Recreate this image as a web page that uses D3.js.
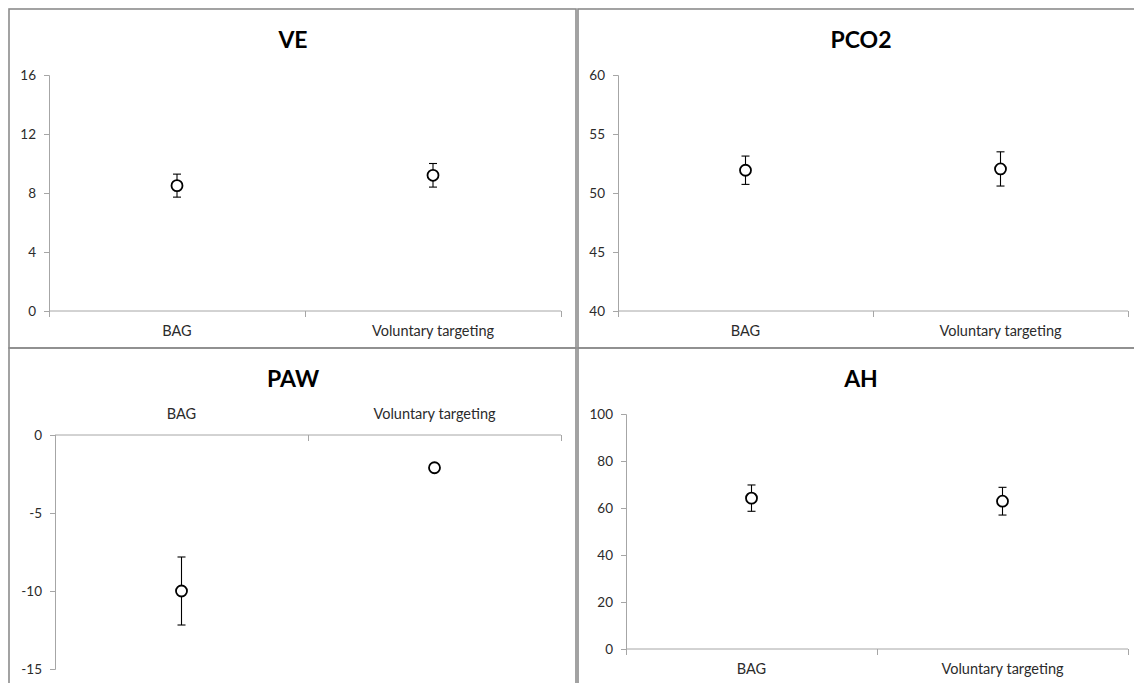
<!DOCTYPE html>
<html>
<head>
<meta charset="utf-8">
<script src="https://cdn.jsdelivr.net/npm/d3@7"></script>
<style>
  html, body { margin: 0; padding: 0; background: #fff; }
  svg { display: block; }
  .tick text { font-family: Lato, "Open Sans", sans-serif; font-size: 13.5px; fill: #2b2b2b; }
  .cat .tick text { font-size: 14.5px; }
  .title { font-family: Lato, "Open Sans", sans-serif; font-size: 23px; font-weight: 700; fill: #000; }
</style>
</head>
<body>
<svg id="chart" width="1134" height="683"></svg>
<script>
// Group labels shared by all four panels
const categories = ["BAG", "Voluntary targeting"];

// Means and error half-widths per group (BAG, Voluntary targeting)
const veMean = [8.5, 9.2];
const veErr = [0.78, 0.8];
const pco2Mean = [51.93, 52.04];
const pco2Err = [1.2, 1.45];
const pawMean = [-10.0, -2.1];
const pawErr = [2.18, 0];
const ahMean = [64.2, 62.9];
const ahErr = [5.6, 5.9];

// Y-axis tick values per panel
const veTicks = [0, 4, 8, 12, 16];
const pco2Ticks = [40, 45, 50, 55, 60];
const pawTicks = [-15, -10, -5, 0];
const ahTicks = [0, 20, 40, 60, 80, 100];

const panels = [
  { title: "VE", mean: veMean, err: veErr, ticks: veTicks, domain: [0, 16],
    box: [9, 9, 567, 339], px: [49, 561], py: [75, 311], titleX: 293, titleY: 48, labelsTop: false },
  { title: "PCO2", mean: pco2Mean, err: pco2Err, ticks: pco2Ticks, domain: [40, 60],
    box: [578, 9, 568, 339], px: [618, 1128], py: [75, 311], titleX: 861, titleY: 48, labelsTop: false },
  { title: "PAW", mean: pawMean, err: pawErr, ticks: pawTicks, domain: [-15, 0],
    box: [9, 348, 567, 339], px: [55, 561], py: [435, 669], titleX: 293, titleY: 387, labelsTop: true },
  { title: "AH", mean: ahMean, err: ahErr, ticks: ahTicks, domain: [0, 100],
    box: [578, 348, 568, 339], px: [626, 1128], py: [414, 649], titleX: 861, titleY: 387, labelsTop: false }
];

const svg = d3.select("#chart");
const axisColor = "#a6a6a6";

panels.forEach(p => {
  const g = svg.append("g");

  // panel frame
  g.append("rect")
    .attr("x", p.box[0]).attr("y", p.box[1])
    .attr("width", p.box[2]).attr("height", p.box[3])
    .attr("fill", "none").attr("stroke", "#8c8c8c").attr("stroke-width", 1.6);

  g.append("text").attr("class", "title")
    .attr("x", p.titleX).attr("y", p.titleY)
    .attr("text-anchor", "middle").text(p.title);

  const x = d3.scaleBand().domain(categories).range(p.px).paddingInner(0).paddingOuter(0);
  const y = d3.scaleLinear().domain(p.domain).range([p.py[1], p.py[0]]);

  // value axis (plain hyphen for negatives)
  const ya = g.append("g").attr("transform", `translate(${p.px[0]},0)`)
    .call(d3.axisLeft(y).tickValues(p.ticks).tickSize(5).tickPadding(8).tickFormat(d => String(d)));
  ya.selectAll("path, line").attr("stroke", axisColor);

  // category axis crosses at zero (or at the bottom of the range)
  const cross = (p.domain[0] <= 0 && p.domain[1] >= 0) ? y(0) : y(p.domain[0]);
  const edge = d3.scaleLinear().domain([0, categories.length]).range(p.px);
  const xa = g.append("g").attr("transform", `translate(0,${cross})`)
    .call(d3.axisBottom(edge).tickValues(d3.range(categories.length + 1)).tickSize(6).tickFormat(""));
  xa.selectAll("path, line").attr("stroke", axisColor);
  xa.select(".domain").attr("d", `M${p.px[0]},0H${p.px[1]}`);

  // category labels
  const la = g.append("g").attr("class", "cat").attr("transform", `translate(0,${cross})`)
    .call(p.labelsTop ? d3.axisTop(x).tickSize(0).tickPadding(16)
                      : d3.axisBottom(x).tickSize(0).tickPadding(15));
  la.select(".domain").remove();

  // error bars
  const pts = categories.map((c, i) => ({ c, m: p.mean[i], e: p.err[i] }));
  const eb = g.append("g").attr("stroke", "#000").attr("stroke-width", 1.1);
  pts.filter(d => d.e > 0).forEach(d => {
    const cx = x(d.c) + x.bandwidth() / 2;
    eb.append("line").attr("x1", cx).attr("x2", cx).attr("y1", y(d.m - d.e)).attr("y2", y(d.m + d.e));
    [d.m - d.e, d.m + d.e].forEach(v => {
      eb.append("line").attr("x1", cx - 4).attr("x2", cx + 4).attr("y1", y(v)).attr("y2", y(v));
    });
  });

  // markers
  g.selectAll("circle.pt").data(pts).join("circle")
    .attr("class", "pt")
    .attr("cx", d => x(d.c) + x.bandwidth() / 2)
    .attr("cy", d => y(d.m))
    .attr("r", 5.5)
    .attr("fill", "#fff").attr("stroke", "#000").attr("stroke-width", 1.8);
});
</script>
</body>
</html>
